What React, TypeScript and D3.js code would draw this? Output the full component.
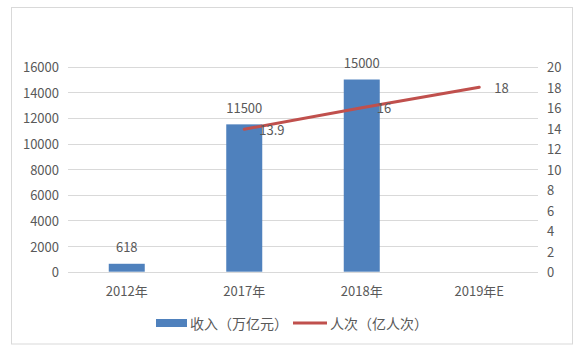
import React from "react";
import * as d3 from "d3";

const categories = ["2012年", "2017年", "2018年", "2019年E"];
const revenue: (number | null)[] = [618, 11500, 15000, null];
const visits: (number | null)[] = [null, 13.9, 16, 18];
const leftTicks = [0, 2000, 4000, 6000, 8000, 10000, 12000, 14000, 16000];
const rightTicks = [0, 2, 4, 6, 8, 10, 12, 14, 16, 18, 20];
const legendLabels = ["收入（万亿元）", "人次（亿人次）"];

const W = 578;
const H = 352;
const plotLeft = 68;
const plotRight = 538;
const yTop = 66.7;
const yBottom = 271.7;
const BLUE = "#4F81BD";
const RED = "#C0504D";
const TXT = "#595959";
const FONT = "'Noto Sans CJK SC', 'Noto Sans', sans-serif";

export default function App() {
  const x = d3.scaleBand<string>().domain(categories).range([plotLeft, plotRight]);
  const yL = d3.scaleLinear().domain([0, 16000]).range([yBottom, yTop]);
  const yR = d3.scaleLinear().domain([0, 20]).range([yBottom, yTop]);
  const cx = (c: string) => (x(c) as number) + x.bandwidth() / 2;
  const barW = 36;

  const linePts = categories
    .map((c, i) => ({ c, v: visits[i] }))
    .filter((d) => d.v != null) as { c: string; v: number }[];
  const lineGen = d3
    .line<{ c: string; v: number }>()
    .x((d) => cx(d.c))
    .y((d) => yR(d.v));

  return (
    <svg
      width={W}
      height={H}
      style={{ position: "absolute", left: 0, top: 0, fontFamily: FONT }}
    >
      <rect x={0} y={0} width={W} height={H} fill="#fff" />
      <rect x={11.5} y={7.5} width={561} height={336.5} fill="#fff" stroke="#d9d9d9" strokeWidth={1} />
      {leftTicks.map((t) => (
        <g key={"l" + t}>
          <line x1={plotLeft} x2={plotRight} y1={Math.round(yL(t)) + 0.5} y2={Math.round(yL(t)) + 0.5} stroke="#d9d9d9" strokeWidth={1} />
          <text x={59} y={yL(t)} textAnchor="end" dominantBaseline="central" fontSize={13} fill={TXT}>
            {t}
          </text>
        </g>
      ))}
      {rightTicks.map((t) => (
        <text key={"r" + t} x={547} y={yR(t)} textAnchor="start" dominantBaseline="central" fontSize={13} fill={TXT}>
          {t}
        </text>
      ))}
      {categories.map((c, i) =>
        revenue[i] != null ? (
          <g key={"b" + c}>
            <rect
              x={cx(c) - barW / 2}
              y={yL(revenue[i] as number)}
              width={barW}
              height={yBottom - yL(revenue[i] as number)}
              fill={BLUE}
            />
            <text x={cx(c)} y={yL(revenue[i] as number) - 17} textAnchor="middle" dominantBaseline="central" fontSize={13} fill={TXT}>
              {revenue[i]}
            </text>
          </g>
        ) : null
      )}
      {categories.map((c) => (
        <text key={"x" + c} x={cx(c)} y={290} textAnchor="middle" dominantBaseline="central" fontSize={13} fill={TXT}>
          {c}
        </text>
      ))}
      <path d={lineGen(linePts) || ""} fill="none" stroke={RED} strokeWidth={3} strokeLinecap="round" />
      {linePts.map((d) => (
        <text key={"v" + d.c} x={cx(d.c) + 15} y={yR(d.v)} textAnchor="start" dominantBaseline="central" fontSize={13} fill={TXT}>
          {d.v}
        </text>
      ))}
      <rect x={156} y={319} width={31} height={8} fill={BLUE} />
      <text x={190} y={323} dominantBaseline="central" fontSize={14} fill={TXT}>
        {legendLabels[0]}
      </text>
      <line x1={293} x2={327} y1={323} y2={323} stroke={RED} strokeWidth={3} />
      <text x={330} y={323} dominantBaseline="central" fontSize={14} fill={TXT}>
        {legendLabels[1]}
      </text>
    </svg>
  );
}
